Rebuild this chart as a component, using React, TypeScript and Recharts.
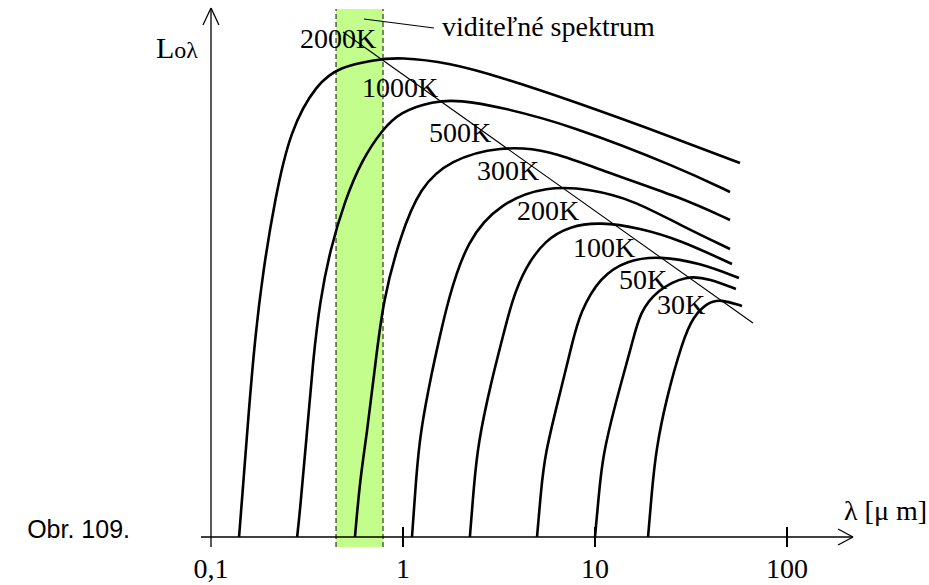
import React from "react";
import {
  LineChart,
  Line,
  XAxis,
  YAxis,
  ReferenceLine,
  ReferenceArea,
  ReferenceDot,
} from "recharts";

// wavelength in µm (log axis), L in arbitrary units
const temps = ["2000K", "1000K", "500K", "300K", "200K", "100K", "50K", "30K"];

const lam2000 = [0.14, 0.145, 0.156, 0.169, 0.187, 0.215, 0.258, 0.357, 0.47, 0.698, 0.965, 1.76, 3.2, 7.41, 27.7, 56.9];
const val2000 = [0, 37, 117, 197, 267, 337, 407, 454, 470, 477, 480, 474, 460, 437, 397, 374];

const lam1000 = [0.281, 0.291, 0.316, 0.34, 0.37, 0.417, 0.499, 0.611, 0.778, 0.965, 1.432, 1.98, 3.2, 7.41, 27.7, 50.5];
const val1000 = [0, 27, 104, 177, 237, 287, 337, 377, 407, 425, 436, 437, 430, 412, 369, 345];

const lam500 = [0.562, 0.597, 0.649, 0.715, 0.787, 0.965, 1.226, 1.758, 3.2, 5.83, 10.6, 27.7, 50.5];
const val500 = [0, 57, 104, 170, 237, 300, 350, 377, 391, 387, 367, 340, 317];

const lam300 = [1.114, 1.169, 1.226, 1.432, 1.521, 1.715, 2.154, 3.2, 5.62, 9.42, 15.78, 27.7, 50.5];
const val300 = [0, 57, 104, 170, 192, 237, 297, 334, 351, 348, 337, 312, 288];

const lam200 = [2.23, 2.34, 2.46, 2.87, 3.28, 3.7, 4.32, 5.49, 7.41, 10.6, 17.15, 27.7, 51.7];
const val200 = [0, 51, 94, 154, 197, 237, 269, 297, 311, 315, 309, 297, 273];

const lam100 = [4.99, 5.23, 5.49, 6.42, 7.68, 8.35, 10.6, 14.68, 21.8, 35.2, 56.2];
const val100 = [0, 46, 83, 136, 197, 224, 260, 277, 281, 274, 259];

const lam50 = [10.0, 10.5, 11.0, 12.7, 15.8, 17.1, 21.0, 30.1, 39.7, 54.2];
const val50 = [0, 45, 82, 132, 197, 224, 247, 262, 258, 248];

const lam30 = [18.9, 19.8, 20.8, 23.4, 28.7, 32.4, 38.3, 44.8, 58.3];
const val30 = [0, 47, 87, 137, 197, 220, 234, 238, 231];

// where each temperature label starts (text start, baseline)
const labelLam = [0.2907, 0.611, 1.366, 2.429, 3.925, 7.68, 13.34, 21.04];
const labelVal = [489, 440, 395, 357, 317, 280, 248, 223];

const xTicks = [0.1, 1, 10, 100];
const xDomain = [0.0887, 220.7];
const yDomain = [0, 529];

// visible band and Wien line
const visLam = [0.448, 0.787];
const wienLam = [0.487, 66.5];
const wienVal = [505, 214];

const allLam = [lam2000, lam1000, lam500, lam300, lam200, lam100, lam50, lam30];
const allVal = [val2000, val1000, val500, val300, val200, val100, val50, val30];

const series = temps.map((t, i) => ({
  name: t,
  points: allLam[i].map((lam, j) => ({ lam, L: allVal[i][j] })),
}));

const FONT = "'Liberation Serif', 'Times New Roman', serif";
const INK = "#000";

const seg = (x1: number, y1: number, x2: number, y2: number) => [
  { x: x1, y: y1 },
  { x: x2, y: y2 },
];

export default function App() {
  return (
    <div style={{ position: "absolute", left: 0, top: 0, width: 929, height: 585, background: "#fff" }}>
      <LineChart
        width={929}
        height={585}
        margin={{ top: 8, right: 76, left: 201, bottom: 0 }}
      >
        <XAxis
          dataKey="lam"
          type="number"
          scale="log"
          domain={xDomain}
          allowDataOverflow
          ticks={xTicks}
          tickFormatter={(v: number) => (v === 0.1 ? "0,1" : String(v))}
          tickLine={false}
          tickSize={10}
          tickMargin={11}
          height={48}
          axisLine={{ stroke: INK, strokeWidth: 1.3 }}
          tick={{ fontFamily: FONT, fontSize: 28, fill: INK }}
        />
        <YAxis type="number" domain={yDomain} allowDataOverflow hide width={0} />

        <ReferenceArea
          x1={visLam[0]}
          x2={visLam[1]}
          y1={-10}
          y2={528}
          ifOverflow="visible"
          fill="#c3fd8b"
          fillOpacity={1}
          stroke="none"
        />
        {visLam.map((x) => (
          <ReferenceLine
            key={"vis" + x}
            segment={seg(x, -10, x, 528)}
            ifOverflow="visible"
            stroke="#333"
            strokeWidth={1.2}
            strokeDasharray="5 3"
          />
        ))}

        {/* axes drawn by hand: y axis at 0,1 and arrow heads */}
        <ReferenceLine segment={seg(0.1, -10, 0.1, 529)} ifOverflow="visible" stroke={INK} strokeWidth={1.3} />
        <ReferenceLine segment={seg(0.0908, 512, 0.1, 529)} ifOverflow="visible" stroke={INK} strokeWidth={1.3} />
        <ReferenceLine segment={seg(0.1, 529, 0.11, 512)} ifOverflow="visible" stroke={INK} strokeWidth={1.3} />
        <ReferenceLine segment={seg(184.4, 8, 220.7, 0)} ifOverflow="visible" stroke={INK} strokeWidth={1.3} />
        <ReferenceLine segment={seg(184.4, -8, 220.7, 0)} ifOverflow="visible" stroke={INK} strokeWidth={1.3} />
        {xTicks.slice(1).map((t) => (
          <ReferenceLine key={"t" + t} segment={seg(t, -10, t, 10)} ifOverflow="visible" stroke={INK} strokeWidth={2} />
        ))}

        <ReferenceLine
          segment={seg(wienLam[0], wienVal[0], wienLam[1], wienVal[1])}
          ifOverflow="visible"
          stroke={INK}
          strokeWidth={1.1}
        />
        <ReferenceLine segment={seg(0.626, 518, 1.45, 509)} ifOverflow="visible" stroke={INK} strokeWidth={1.1} />

        {series.map((s) => (
          <Line
            key={s.name}
            data={s.points}
            dataKey="L"
            type="basis"
            stroke={INK}
            strokeWidth={2.6}
            dot={false}
            isAnimationActive={false}
          />
        ))}

        {temps.map((t, i) => (
          <ReferenceDot
            key={"lbl" + t}
            x={labelLam[i]}
            y={labelVal[i]}
            r={1}
            ifOverflow="visible"
            shape={(p: any) => (
              <text x={p.cx} y={p.cy} fontFamily={FONT} fontSize={28} fill={INK}>
                {t}
              </text>
            )}
          />
        ))}
        <ReferenceDot
          x={1.597}
          y={501}
          r={1}
          ifOverflow="visible"
          shape={(p: any) => (
            <text x={p.cx} y={p.cy} fontFamily={FONT} fontSize={28} fill={INK}>
              viditeľné spektrum
            </text>
          )}
        />
      </LineChart>

      <svg width={929} height={585} style={{ position: "absolute", left: 0, top: 0, pointerEvents: "none" }}>
        <text x={156} y={58} fontFamily={FONT} fill={INK}>
          <tspan fontSize={30}>L</tspan>
          <tspan fontSize={24}>oλ</tspan>
        </text>
        <text x={927} y={520} textAnchor="end" fontFamily={FONT} fontSize={28} fill={INK}>
          λ [μ m]
        </text>
        <text x={130} y={538} textAnchor="end" fontFamily="'Liberation Sans', Arial, sans-serif" fontSize={25} fill={INK}>
          Obr. 109.
        </text>
      </svg>
    </div>
  );
}
